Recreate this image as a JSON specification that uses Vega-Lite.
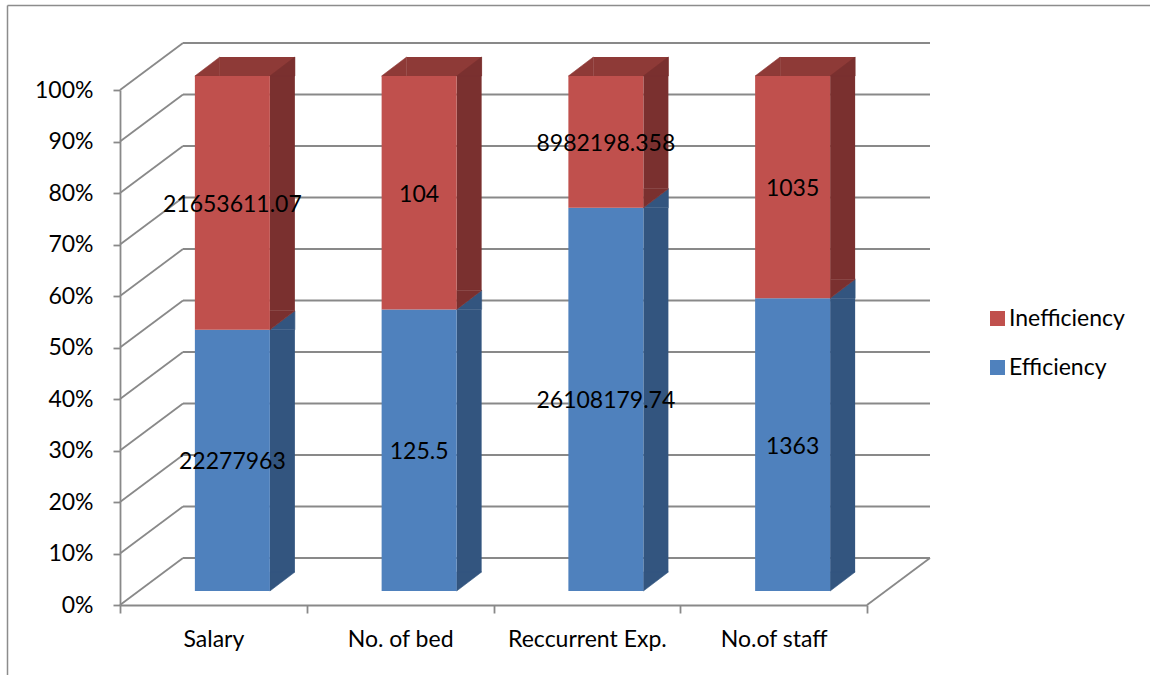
{
  "$schema": "https://vega.github.io/schema/vega-lite/v6.json",
  "width": 1143,
  "height": 670,
  "autosize": "none",
  "padding": {"left": 7, "top": 5, "right": 0, "bottom": 0},
  "config": {
    "view": {"stroke": null},
    "font": "Lato",
    "text": {"font": "Lato"}
  },
  "datasets": {
    "costs": [
      {"category": "Salary", "series": "Efficiency", "value": 22277963},
      {"category": "Salary", "series": "Inefficiency", "value": 21653611.07},
      {"category": "No. of bed", "series": "Efficiency", "value": 125.5},
      {"category": "No. of bed", "series": "Inefficiency", "value": 104},
      {"category": "Reccurrent Exp.", "series": "Efficiency", "value": 26108179.74},
      {"category": "Reccurrent Exp.", "series": "Inefficiency", "value": 8982198.358},
      {"category": "No.of staff", "series": "Efficiency", "value": 1363},
      {"category": "No.of staff", "series": "Inefficiency", "value": 1035}
    ],
    "wall": [
      {"tick": 0}, {"tick": 0.1}, {"tick": 0.2}, {"tick": 0.3}, {"tick": 0.4},
      {"tick": 0.5}, {"tick": 0.6}, {"tick": 0.7}, {"tick": 0.8}, {"tick": 0.9}, {"tick": 1}
    ]
  },
  "resolve": {
    "scale": {"x": "independent", "y": "independent"},
    "axis": {"x": "independent", "y": "independent"}
  },
  "layer": [
    {
      "data": {"values": [{}]},
      "mark": {"type": "point", "opacity": 0},
      "encoding": {
        "x": {"datum": 0, "type": "quantitative", "scale": {"domain": [0, 1], "range": [0, 1143]},
          "axis": {"orient": "top", "domain": true, "domainColor": "#8c8c8c", "domainWidth": 1.5, "ticks": false, "labels": false, "grid": false, "title": null}},
        "y": {"datum": 0, "type": "quantitative", "scale": {"domain": [0, 1], "range": [670, 0]},
          "axis": {"orient": "left", "domain": true, "domainColor": "#8c8c8c", "domainWidth": 1.5, "ticks": false, "labels": false, "grid": false, "title": null}}
      }
    },
    {
      "data": {"name": "wall"},
      "layer": [
        {
          "mark": {"type": "rule", "color": "#898989", "strokeWidth": 1.8, "xOffset": 63, "x2Offset": 63, "yOffset": -47},
          "encoding": {
            "x": {"datum": 0, "type": "quantitative", "scale": {"domain": [0, 1], "range": [113, 860]}, "axis": null},
            "x2": {"datum": 1},
            "y": {"field": "tick", "type": "quantitative", "scale": {"domain": [0, 1], "range": [600, 85], "nice": false, "zero": false}, "axis": null}
          }
        },
        {
          "mark": {"type": "rule", "color": "#898989", "strokeWidth": 1.8, "x2Offset": 63, "y2Offset": -47},
          "encoding": {
            "x": {"datum": 0, "type": "quantitative", "scale": {"domain": [0, 1], "range": [113, 860]}, "axis": null},
            "x2": {"datum": 0},
            "y": {"field": "tick", "type": "quantitative", "scale": {"domain": [0, 1], "range": [600, 85], "nice": false, "zero": false}, "axis": null},
            "y2": {"field": "tick"}
          }
        },
        {
          "transform": [{"filter": "datum.tick === 0"}],
          "mark": {"type": "rule", "color": "#898989", "strokeWidth": 1.8, "x2Offset": 63, "y2Offset": -47},
          "encoding": {
            "x": {"datum": 1, "type": "quantitative", "scale": {"domain": [0, 1], "range": [113, 860]}, "axis": null},
            "x2": {"datum": 1},
            "y": {"field": "tick", "type": "quantitative", "scale": {"domain": [0, 1], "range": [600, 85], "nice": false, "zero": false}, "axis": null},
            "y2": {"field": "tick"}
          }
        }
      ]
    },
    {
      "data": {"name": "costs"},
      "transform": [
        {"stack": "value", "groupby": ["category"], "offset": "normalize", "sort": [{"field": "series", "order": "ascending"}], "as": ["y0", "y1"]},
        {"calculate": "(datum.y0 + datum.y1) / 2", "as": "mid"}
      ],
      "encoding": {
        "x": {
          "field": "category", "type": "nominal",
          "scale": {"type": "band", "domain": ["Salary", "No. of bed", "Reccurrent Exp.", "No.of staff"], "range": [113, 860], "paddingInner": 0, "paddingOuter": 0},
          "axis": {
            "orient": "bottom", "offset": -70, "tickBand": "extent", "title": null, "labelAngle": 0,
            "domainColor": "#898989", "domainWidth": 1.8, "tickColor": "#898989", "tickWidth": 1.8, "tickSize": 8,
            "labelPadding": 15, "labelFont": "Lato", "labelFontSize": 23, "labelColor": "#000000"
          }
        }
      },
      "layer": [
        {
          "transform": [{"filter": "datum.series === 'Inefficiency'"}],
          "mark": {"type": "bar", "width": 75, "xOffset": 44, "yOffset": -33, "y2Offset": -14, "color": "#8E3A37"},
          "encoding": {
            "y": {"field": "y1", "type": "quantitative", "scale": {"domain": [0, 1], "range": [600, 85], "nice": false, "zero": false},
              "axis": {"orient": "left", "offset": -113, "format": ".0%", "values": [0, 0.1, 0.2, 0.3, 0.4, 0.5, 0.6, 0.7, 0.8, 0.9, 1], "grid": false, "title": null,
                "domainColor": "#898989", "domainWidth": 1.8, "tickColor": "#898989", "tickWidth": 1.8, "tickSize": 7,
                "labelPadding": 20, "labelFont": "Lato", "labelFontSize": 23, "labelColor": "#000000"}},
            "y2": {"field": "y1"}
          }
        },
        {
          "transform": [{"filter": "datum.series === 'Inefficiency'"}],
          "mark": {"type": "point", "shape": "M-1,0L1,-1.52L1,0Z", "size": 625, "filled": true, "opacity": 1, "xOffset": -6, "yOffset": -14, "color": "#8E3A37", "stroke": "#8E3A37", "strokeWidth": 0.6},
          "encoding": {
            "y": {"field": "y1", "type": "quantitative"}
          }
        },
        {
          "mark": {"type": "bar", "width": 25, "xOffset": 69, "yOffset": -33, "y2Offset": -14},
          "encoding": {
            "y": {"field": "y0", "type": "quantitative"},
            "y2": {"field": "y1"},
            "color": {"condition": {"test": "datum.series === 'Inefficiency'", "value": "#7A302F"}, "value": "#33557F"}
          }
        },
        {
          "mark": {"type": "point", "shape": "M-1,0L1,-1.52L1,0Z", "size": 625, "filled": true, "opacity": 1, "xOffset": 69, "yOffset": -14, "strokeWidth": 0.6},
          "encoding": {
            "y": {"field": "y1", "type": "quantitative"},
            "color": {"condition": {"test": "datum.series === 'Inefficiency'", "value": "#7A302F"}, "value": "#33557F"},
            "stroke": {"condition": {"test": "datum.series === 'Inefficiency'", "value": "#7A302F"}, "value": "#33557F"}
          }
        },
        {
          "mark": {"type": "point", "shape": "M-1,-1.52L-1,0L1,-1.52Z", "size": 625, "filled": true, "opacity": 1, "xOffset": 69, "yOffset": -14, "strokeWidth": 0.6},
          "encoding": {
            "y": {"field": "y0", "type": "quantitative"},
            "color": {"condition": {"test": "datum.series === 'Inefficiency'", "value": "#7A302F"}, "value": "#33557F"},
            "stroke": {"condition": {"test": "datum.series === 'Inefficiency'", "value": "#7A302F"}, "value": "#33557F"}
          }
        },
        {
          "mark": {"type": "bar", "width": 75, "xOffset": 19, "yOffset": -14, "y2Offset": -14},
          "encoding": {
            "y": {"field": "y0", "type": "quantitative"},
            "y2": {"field": "y1"},
            "color": {
              "field": "series", "type": "nominal",
              "scale": {"domain": ["Inefficiency", "Efficiency"], "range": ["#C0504D", "#4F81BD"]},
              "legend": {
                "orient": "none", "legendX": 979, "legendY": 302, "title": null, "padding": 0,
                "symbolType": "square", "symbolSize": 225, "symbolStrokeWidth": 0,
                "labelFont": "Lato", "labelFontSize": 23, "labelColor": "#000000", "labelOffset": 0, "rowPadding": 25
              }
            }
          }
        },
        {
          "mark": {"type": "text", "xOffset": 19, "yOffset": -12, "fontSize": 23, "color": "#000000", "baseline": "middle", "align": "center"},
          "encoding": {
            "y": {"field": "mid", "type": "quantitative"},
            "text": {"field": "value", "type": "nominal"}
          }
        }
      ]
    }
  ]
}
